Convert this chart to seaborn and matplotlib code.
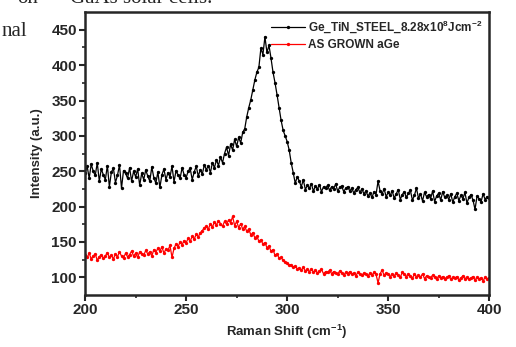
import numpy as np
import pandas as pd
import matplotlib.pyplot as plt
import seaborn as sns

# ---- data (Raman shift, 1 cm^-1 step) ----
raman_shift = list(range(200, 401))

ge_tin_steel = [
    248, 257, 240, 260, 250, 244, 262, 236, 253, 245,
    238, 258, 228, 249, 254, 234, 244, 259, 226, 251,
    247, 240, 255, 236, 250, 242, 253, 230, 247, 238,
    252, 243, 236, 256, 241, 233, 249, 227, 245, 253,
    238, 248, 242, 257, 235, 251, 244, 240, 255, 245,
    241, 250, 254, 238, 249, 257, 243, 252, 246, 259,
    252, 258, 248, 262, 255, 266, 258, 270, 262, 275,
    284, 272, 288, 280, 295, 285, 298, 290, 305, 310,
    327, 340, 351, 365, 379, 390, 397, 424, 415, 440,
    418, 428, 410, 390, 375, 358, 340, 322, 308, 300,
    292, 280, 262, 248, 233, 242, 236, 228, 238, 224,
    230, 226, 232, 222, 229, 225, 231, 221, 228, 226,
    230, 223, 228, 225, 232, 222, 227, 229, 221, 226,
    228, 222, 226, 219, 224, 227, 220, 225, 218, 222,
    215, 219, 213, 221, 217, 236, 222, 218, 225, 214,
    220, 216, 222, 212, 218, 224, 210, 217, 221, 213,
    219, 223, 209, 216, 226, 212, 218, 208, 220, 214,
    217, 211, 222, 207, 215, 219, 209, 221, 213, 216,
    210, 218, 206, 214, 219, 208, 216, 211, 220, 205,
    213, 217, 209, 196, 215, 211, 207, 218, 210, 214,
    212,
]

as_grown = [
    131, 128, 134, 126, 130, 133, 124, 129, 132, 127,
    130, 135, 128, 131, 126, 133, 129, 136, 130, 127,
    134, 129, 132, 137, 130, 134, 128, 136, 133, 131,
    138, 133, 136, 130, 139, 135, 141, 137, 143, 134,
    140, 138, 145, 128, 141, 147, 143, 150, 146, 152,
    149, 155, 151, 158, 154, 161, 157, 163, 166, 170,
    172, 168, 176, 171, 178, 174, 180, 176, 172, 179,
    175, 181, 177, 186, 173, 179, 170, 176, 168, 172,
    165, 168, 160, 163, 156, 158, 151, 153, 147, 149,
    142, 144, 137, 139, 131, 133, 127, 128, 124, 121,
    120, 117, 118, 114, 116, 112, 113, 110, 114, 109,
    111, 108, 112, 107, 110, 106, 109, 111, 105, 108,
    107, 110, 105, 108, 106, 104, 109, 106, 103, 107,
    105, 108, 104, 106, 102, 107, 105, 103, 106, 104,
    102, 106, 103, 107, 104, 92, 105, 110, 103, 106,
    104, 101, 105, 102, 106, 103, 100, 107, 104, 101,
    105, 102, 99, 104, 101, 103, 100, 105, 98, 102,
    101, 99, 103, 100, 97, 102, 99, 101, 98, 100,
    102, 97, 100, 99, 101, 96, 99, 102, 98, 100,
    97, 99, 101, 96, 100, 98, 99, 95, 100, 98,
    99,
]

label_steel = r"Ge_TiN_STEEL_8.28x10$^{8}$Jcm$^{-2}$"
label_grown = "AS GROWN aGe"
x_ticks = [200, 250, 300, 350, 400]
y_ticks = [100, 150, 200, 250, 300, 350, 400, 450]

df = pd.concat([
    pd.DataFrame({'shift': raman_shift, 'intensity': ge_tin_steel, 'sample': label_steel}),
    pd.DataFrame({'shift': raman_shift, 'intensity': as_grown, 'sample': label_grown}),
])

# ---- style ----
sns.set_style('ticks')
plt.rcParams['font.family'] = ['Liberation Sans', 'DejaVu Sans']
plt.rcParams['font.weight'] = 'bold'
plt.rcParams['mathtext.fontset'] = 'custom'
plt.rcParams['mathtext.rm'] = 'Liberation Sans:bold'
plt.rcParams['mathtext.bf'] = 'Liberation Sans:bold'
plt.rcParams['mathtext.default'] = 'bf'

fig = plt.figure(figsize=(5.16, 3.47), dpi=100)
ax = fig.add_axes([0.165, 0.150, 0.783, 0.815])

sns.lineplot(data=df, x='shift', y='intensity', hue='sample',
             palette={label_steel: 'black', label_grown: '#ff0000'},
             marker='o', markersize=2.4, markeredgewidth=0, linewidth=0.9,
             ax=ax)

ax.set_xlim(200, 400)
ax.set_ylim(75, 475)
ax.set_xticks(x_ticks)
ax.set_yticks(y_ticks)
ax.set_xticks([225, 275, 325, 375], minor=True)
ax.set_yticks([125, 175, 225, 275, 325, 375, 425], minor=True)
ax.tick_params(axis='both', which='major', direction='out', length=4, width=1.5,
               labelsize=11, pad=2)
ax.tick_params(axis='both', which='minor', direction='out', length=2.5, width=1.2)
for lab in ax.get_xticklabels() + ax.get_yticklabels():
    lab.set_fontweight('bold')
for sp in ax.spines.values():
    sp.set_linewidth(1.8)

ax.set_xlabel(r"Raman Shift (cm$^{-1}$)", fontsize=9.5, fontweight='bold', labelpad=4)
ax.set_ylabel("Intensity (a.u.)", fontsize=9.5, fontweight='bold', labelpad=6)

leg = ax.legend(loc='upper right', frameon=False, handlelength=2.9,
                handletextpad=0.3, borderaxespad=0.15, labelspacing=0.3,
                prop={'weight': 'bold', 'size': 8.5})
for h in leg.get_lines():
    h.set_linewidth(0.9)
    h.set_markersize(2.4)

# page text around the figure (cropped from the article)
serif = ['Liberation Serif', 'DejaVu Serif']
fig.text(38 / 516, 1 - 3 / 347, "on", ha='right', va='baseline',
         family=serif, fontsize=15, fontweight='normal')
fig.text(70 / 516, 1 - 3 / 347, "GaAs solar cells.", ha='left', va='baseline',
         family=serif, fontsize=15, fontweight='normal')
fig.text(27 / 516, 1 - 36 / 347, "nal", ha='right', va='baseline',
         family=serif, fontsize=15, fontweight='normal')

fig.savefig('out.png', dpi=100)
